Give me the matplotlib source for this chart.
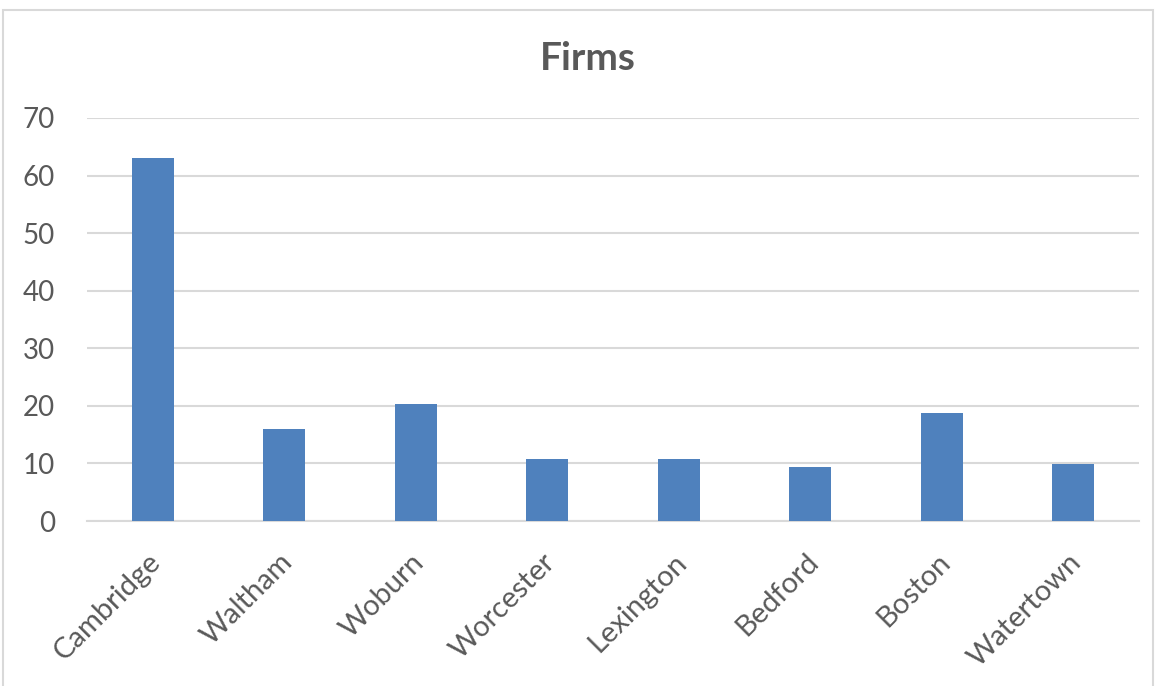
import matplotlib.pyplot as plt
import matplotlib.transforms as mtransforms
from matplotlib.patches import Rectangle

cities = ['Cambridge', 'Waltham', 'Woburn', 'Worcester', 'Lexington',
          'Bedford', 'Boston', 'Watertown']
firms = [63, 15.9, 20.3, 10.7, 10.7, 9.4, 18.8, 9.9]

TEXT = '#595959'
GRID = '#D9D9D9'
BAR = '#4F81BD'

plt.rcParams['font.family'] = ['Lato', 'DejaVu Sans']

fig = plt.figure(figsize=(11.56, 6.86), dpi=100)
ax = fig.add_axes([87 / 1156, 1 - 521 / 686, 1052 / 1156, 403 / 686])

# light frame round the whole chart
fig.patches.append(Rectangle((3 / 1156, -0.01), 1150 / 1156, 1 - 10 / 686 + 0.01,
                             transform=fig.transFigure, fill=False,
                             edgecolor=GRID, linewidth=1.5))

x = range(len(cities))
ax.bar(x, firms, width=0.32, color=BAR, zorder=3)

ax.set_xlim(-0.5, len(cities) - 0.5)
ax.set_ylim(0, 70)
ax.set_yticks(range(0, 71, 10))
ax.yaxis.grid(True, color=GRID, linewidth=1.5, zorder=0)
ax.set_xticks(list(x))
ax.set_xticklabels(cities, rotation=45, ha='right', rotation_mode='anchor')

for side in ['top', 'right', 'left']:
    ax.spines[side].set_visible(False)
ax.spines['bottom'].set_color(GRID)
ax.spines['bottom'].set_linewidth(1.5)
ax.tick_params(axis='both', length=0, labelsize=20, colors=TEXT)
ax.tick_params(axis='y', pad=23)
ax.tick_params(axis='x', pad=20, labelsize=21)

# nudge the slanted names a little to the left
shift = mtransforms.ScaledTranslation(-5 / 100, 0, fig.dpi_scale_trans)
for lbl in ax.get_xticklabels():
    lbl.set_transform(lbl.get_transform() + shift)

fig.text(588 / 1156, 1 - 59 / 686, 'Firms', ha='center', va='center',
         fontsize=28, fontweight='bold', color=TEXT)

fig.savefig('out.png', dpi=100)
